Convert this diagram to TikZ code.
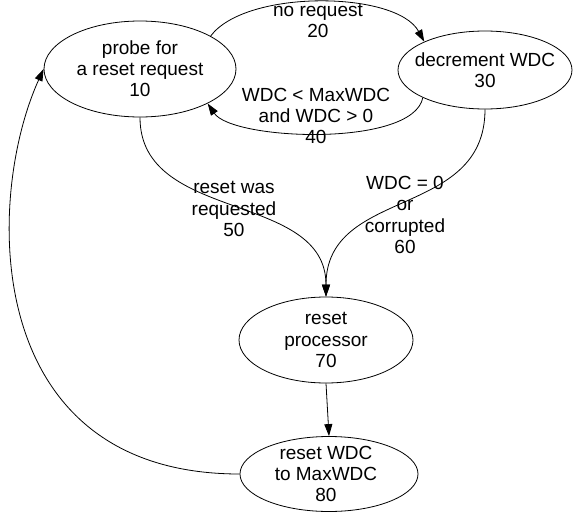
\documentclass[tikz,border=0pt]{standalone}
\usepackage{fontspec}
\setmainfont{Liberation Sans}
\usetikzlibrary{shapes.geometric,arrows.meta}
\begin{document}
\begin{tikzpicture}[x=1pt,y=-1pt,
  state/.style={draw, ellipse, line width=0.8pt, inner sep=0pt},
  txt/.style={align=center, font=\fontsize{19}{21.2}\selectfont, inner sep=0pt},
  link/.style={line width=0.8pt, -{Triangle[length=12pt,width=8pt]}}]
\useasboundingbox (0,0) rectangle (576,514);

% states
\node[state, minimum width=192pt, minimum height=96pt] (probe) at (140,69) {};
\node[txt] (probeT) at (probe.center) {probe for\\a reset request\\10};
\node[state, minimum width=174pt, minimum height=78pt] (dec) at (485,70) {};
\node[txt] (decT) at (dec.center) {decrement WDC\\30};
\node[state, minimum width=174pt, minimum height=86pt] (proc) at (326,340) {};
\node[txt] (procT) at (proc.center) {reset\\processor\\70};
\node[state, minimum width=178pt, minimum height=75pt] (rwdc) at (329,474) {};
\node[txt] (rwdcT) at (326,474) {reset WDC\\to MaxWDC\\80};

% transitions
\draw[link] (probe.25) .. controls +(35,-47) and +(-28,-51) .. (dec.155);
\draw[link] (dec.204) .. controls +(-10,50) and +(25,37) .. (probe.-27);
\draw[link] (probe.south) .. controls +(0,106) and +(0,-106) .. (proc.north);
\draw[link] (dec.south) .. controls +(0,110) and +(0,-110) .. (proc.north);
\draw[link] (proc.south) -- (rwdc.north);
\draw[link] (rwdc.west) .. controls +(-259,0) and +(-59,130) .. (probe.west);

% transition labels
\node[txt] (l20) at (318,21) {no request\\20};
\node[txt] (l40) at (316,116) {WDC < MaxWDC\\and WDC > 0\\40};
\node[txt] (l50) at (234,209) {reset was\\requested\\50};
\node[txt] (l60) at (405,215) {WDC = 0\\or\\corrupted\\60};
\end{tikzpicture}
\end{document}
